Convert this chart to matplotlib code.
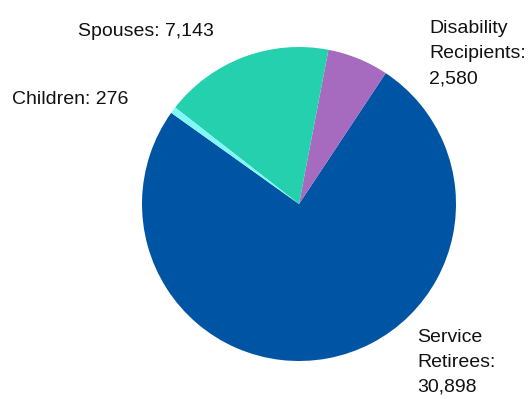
import matplotlib
matplotlib.use("Agg")
import matplotlib.pyplot as plt

categories = ["Service\nRetirees:", "Disability\nRecipients:", "Spouses:", "Children:"]
values = [30898, 2580, 7143, 276]
colors = ["#0054A4", "#A66BBE", "#24D0AE", "#80F8F8"]

plt.rcParams["font.family"] = ["Liberation Sans", "DejaVu Sans"]

fig = plt.figure(figsize=(5.28, 3.99), dpi=100)
ax = fig.add_axes([0, 0, 1, 1])

ax.pie(values, colors=colors, startangle=144.5, counterclock=True,
       radius=1.0, center=(0, 0), wedgeprops=dict(linewidth=0))

# scale: 157 px per unit, pie centre at pixel (299, 204)
S, CX, CY = 157.0, 299.0, 204.0
ax.set_xlim(-CX / S, (528 - CX) / S)
ax.set_ylim(-(399 - CY) / S, CY / S)
ax.set_aspect("auto")
ax.axis("off")


def px(x, y):
    return (x - CX) / S, (CY - y) / S


# anchor = left edge, baseline of last line (pixels)
label_pos = [(417, 392), (429, 83), (78, 36), (12, 104)]
for cat, val, (x, y) in zip(categories, values, label_pos):
    sep = "\n" if "\n" in cat else " "
    text = f"{cat}{sep}{val:,}"
    ax.text(*px(x, y), text, ha="left", va="baseline", fontsize=14,
            linespacing=1.6, color="#111111")

fig.savefig("out.png", dpi=100)
